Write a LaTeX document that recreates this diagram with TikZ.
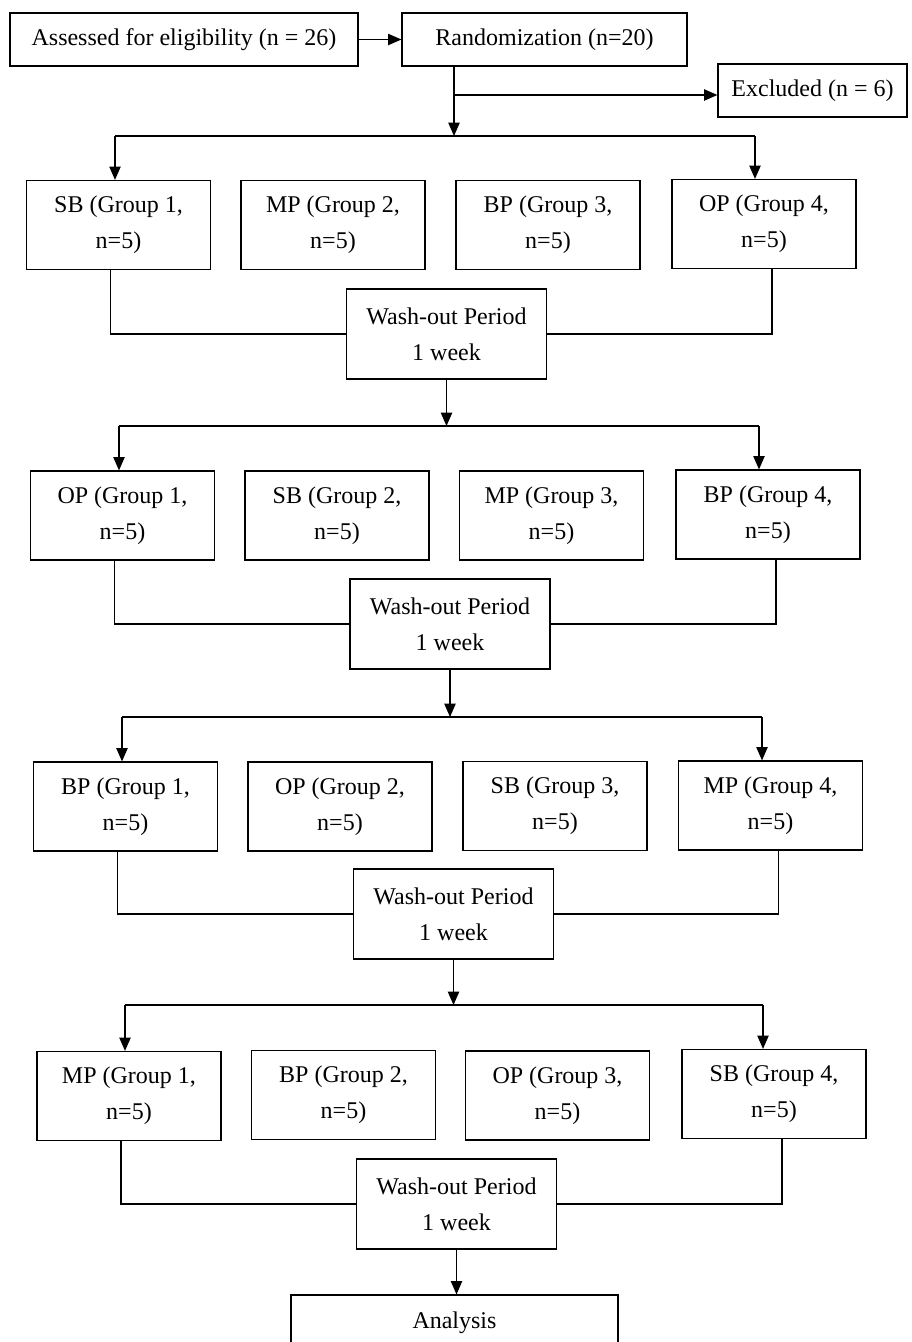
\documentclass[tikz,border=0pt]{standalone}
\usepackage{fontspec}
\setmainfont{Liberation Serif}
\usetikzlibrary{arrows.meta}

\tikzset{
  box/.style={draw, line width=0.9pt, align=center, inner sep=0pt,
    minimum width=138pt, minimum height=66.75pt,
    font=\fontsize{18}{27}\selectfont},
  washbox/.style={box, minimum width=150pt, minimum height=67.5pt},
  linie/.style={line width=0.9pt},
  pfeil/.style={linie, -{Triangle[length=10pt,width=8.5pt]}}
}

\begin{document}
\begin{tikzpicture}[x=0.75pt,y=-0.75pt]
    % Rahmen des Bildes
    \useasboundingbox (0,0) rectangle (911,1342);

    % Obere Kaesten
    \node[box, minimum width=261pt, minimum height=39.75pt] (E) at (184,39.5) {Assessed for eligibility (n = 26)};
    \node[box, minimum width=213.75pt, minimum height=39.75pt] (R) at (544.5,39.5) {Randomization (n=20)};
    \node[box, minimum width=141.75pt, minimum height=39.75pt] (X) at (812.5,90.5) {Excluded (n = 6)};

    % Verzweigungspunkte
    \coordinate (V0) at (454,136);
    \coordinate (X0) at (454,95);
    \coordinate (V1l) at (115,136);
    \coordinate (V1r) at (755,136);
    \coordinate (V2l) at (119,426);
    \coordinate (V2r) at (759,426);
    \coordinate (V3l) at (122,717);
    \coordinate (V3r) at (762,717);
    \coordinate (V4l) at (125,1005);
    \coordinate (V4r) at (763,1005);

    % Erste Periode
    \node[box] (G11) at (118.5,225) {SB (Group 1,\\ n=5)};
    \node[box] (G12) at (333,225) {MP (Group 2,\\ n=5)};
    \node[box] (G13) at (548,225) {BP (Group 3,\\ n=5)};
    \node[box] (G14) at (764,224) {OP (Group 4,\\ n=5)};
    \node[washbox] (W1) at (446.5,334) {Wash-out Period\\ 1 week};

    % Zweite Periode
    \node[box] (G21) at (122.5,515.5) {OP (Group 1,\\ n=5)};
    \node[box] (G22) at (337,515.5) {SB (Group 2,\\ n=5)};
    \node[box] (G23) at (551.5,515.5) {MP (Group 3,\\ n=5)};
    \node[box] (G24) at (768,514.5) {BP (Group 4,\\ n=5)};
    \node[washbox] (W2) at (450,624) {Wash-out Period\\ 1 week};

    % Dritte Periode
    \node[box] (G31) at (125.5,806.5) {BP (Group 1,\\ n=5)};
    \node[box] (G32) at (340,806.5) {OP (Group 2,\\ n=5)};
    \node[box] (G33) at (555,806) {SB (Group 3,\\ n=5)};
    \node[box] (G34) at (770.5,805.5) {MP (Group 4,\\ n=5)};
    \node[washbox] (W3) at (453.5,914) {Wash-out Period\\ 1 week};

    % Vierte Periode
    \node[box] (G41) at (129,1096) {MP (Group 1,\\ n=5)};
    \node[box] (G42) at (343.5,1095) {BP (Group 2,\\ n=5)};
    \node[box] (G43) at (557.5,1095.5) {OP (Group 3,\\ n=5)};
    \node[box] (G44) at (774,1094) {SB (Group 4,\\ n=5)};
    \node[washbox] (W4) at (456.5,1204) {Wash-out Period\\ 1 week};

    % Auswertung
    \node[box, minimum width=245.25pt, minimum height=42pt] (An) at (454.5,1323) {Analysis};

    % Zeichne die Pfeile oben
    \draw[pfeil] (E) -- (R);
    \draw[pfeil] (R.south -| V0) -- (V0);
    \draw[pfeil] (X0) -- (X0 -| X.west);

    % Zeichne die Verzweigungen
    \draw[linie] (V1l) -- (V1r);
    \draw[pfeil] (V1l) -- (V1l |- G11.north);
    \draw[pfeil] (V1r) -- (V1r |- G14.north);
    \draw[linie] (V2l) -- (V2r);
    \draw[pfeil] (V2l) -- (V2l |- G21.north);
    \draw[pfeil] (V2r) -- (V2r |- G24.north);
    \draw[linie] (V3l) -- (V3r);
    \draw[pfeil] (V3l) -- (V3l |- G31.north);
    \draw[pfeil] (V3r) -- (V3r |- G34.north);
    \draw[linie] (V4l) -- (V4r);
    \draw[pfeil] (V4l) -- (V4l |- G41.north);
    \draw[pfeil] (V4r) -- (V4r |- G44.north);

    % Zeichne die Wash-out Verbindungen
    \draw[linie] ([xshift=-6pt]G11.south) |- (W1.west);
    \draw[linie] ([xshift=6pt]G14.south) |- (W1.east);
    \draw[pfeil] (W1.south) -- (W1.south |- V2l);
    \draw[linie] ([xshift=-6pt]G21.south) |- (W2.west);
    \draw[linie] ([xshift=6pt]G24.south) |- (W2.east);
    \draw[pfeil] (W2.south) -- (W2.south |- V3l);
    \draw[linie] ([xshift=-6pt]G31.south) |- (W3.west);
    \draw[linie] ([xshift=6pt]G34.south) |- (W3.east);
    \draw[pfeil] (W3.south) -- (W3.south |- V4l);
    \draw[linie] ([xshift=-6pt]G41.south) |- (W4.west);
    \draw[linie] ([xshift=6pt]G44.south) |- (W4.east);
    \draw[pfeil] (W4.south) -- (W4.south |- An.north);
\end{tikzpicture}
\end{document}
